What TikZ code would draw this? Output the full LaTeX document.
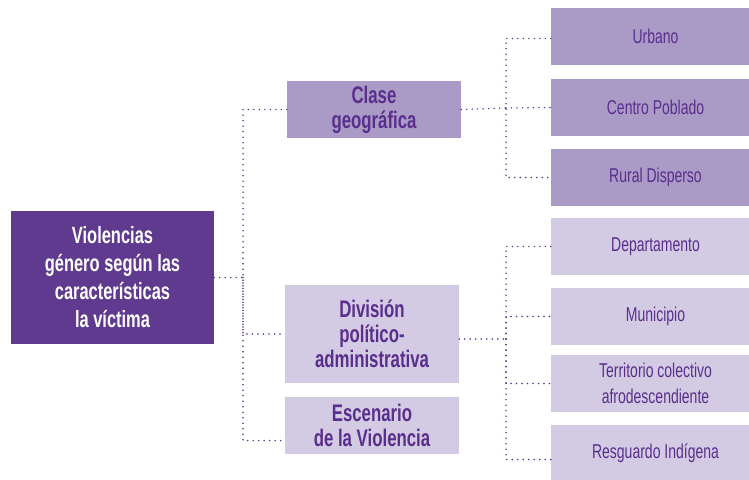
\documentclass[tikz,border=0pt]{standalone}
\usepackage{fontspec}
\setmainfont[FakeStretch=0.70]{Liberation Sans}
\usepackage{tikz}
\usetikzlibrary{positioning}

\definecolor{moradoosc}{HTML}{5F3A8F}
\definecolor{moradomed}{HTML}{AA9AC6}
\definecolor{moradocla}{HTML}{D3CAE4}
\definecolor{moradotxt}{HTML}{5A2E8C}

\begin{document}
\begin{tikzpicture}[x=1pt,y=-1pt,
	raiz/.style={fill=moradoosc,text=white,align=center,inner sep=0pt,
		font=\bfseries\fontsize{23.5}{28}\selectfont,minimum width=203pt,minimum height=133pt},
	rama/.style={text=moradotxt,align=center,inner sep=0pt,
		font=\bfseries\fontsize{24}{25}\selectfont,minimum width=174pt,minimum height=57pt},
	hoja/.style={text=moradotxt,align=center,inner sep=0pt,
		font=\fontsize{20}{26}\selectfont,minimum width=209pt,minimum height=57pt},
	punteado/.style={draw=moradotxt,line width=1.6pt,line cap=round,dash pattern=on 0pt off 5.5pt}]
	\clip (0,0) rectangle (749,479);
	
	\node[raiz] (raiz) at (112.5,277.5) {Violencias\\género según las\\características\\la víctima};
	
	\node[rama,fill=moradomed] (clase) at (374,109.5) {Clase\\geográfica};
	\node[rama,fill=moradocla,minimum height=98pt] (division) at (372,334) {División\\político-\\administrativa};
	\node[rama,fill=moradocla] (escenario) at (372,425.5) {Escenario\\de la Violencia};
	
	\node[hoja,fill=moradomed] (urbano) at (655.5,36.5) {Urbano};
	\node[hoja,fill=moradomed] (centro) at (655.5,107.5) {Centro Poblado};
	\node[hoja,fill=moradomed] (rural) at (655.5,177.5) {Rural Disperso};
	\node[hoja,fill=moradocla] (depto) at (655.5,246.5) {Departamento};
	\node[hoja,fill=moradocla] (municipio) at (655.5,316.5) {Municipio};
	\node[hoja,fill=moradocla] (territorio) at (655.5,383.5) {Territorio colectivo\\afrodescendiente};
	\node[hoja,fill=moradocla] (resguardo) at (655.5,453.5) {Resguardo Indígena};
	
	\coordinate (j1) at (243,277.5);
	\coordinate (j2) at (506,108);
	\coordinate (j3) at (506,339);
	
	\draw[punteado] (raiz.east) -- (j1);
	\draw[punteado] (clase.west) -| (j1) |- ([yshift=-15pt]escenario.west);
	\draw[punteado] (j1) |- (division.west);
	
	\draw[punteado] (clase.east) -- (j2);
	\draw[punteado] ([yshift=-2pt]urbano.west) -| (j2) |- (rural.west);
	\draw[punteado] (j2) -- (centro.west);
	
	\draw[punteado] ([yshift=-5pt]division.east) -- (j3);
	\draw[punteado] (depto.west) -| (j3) |- ([yshift=-6pt]resguardo.west);
	\draw[punteado] (j3) |- (municipio.west);
	\draw[punteado] (j3) |- (territorio.west);
\end{tikzpicture}
\end{document}
